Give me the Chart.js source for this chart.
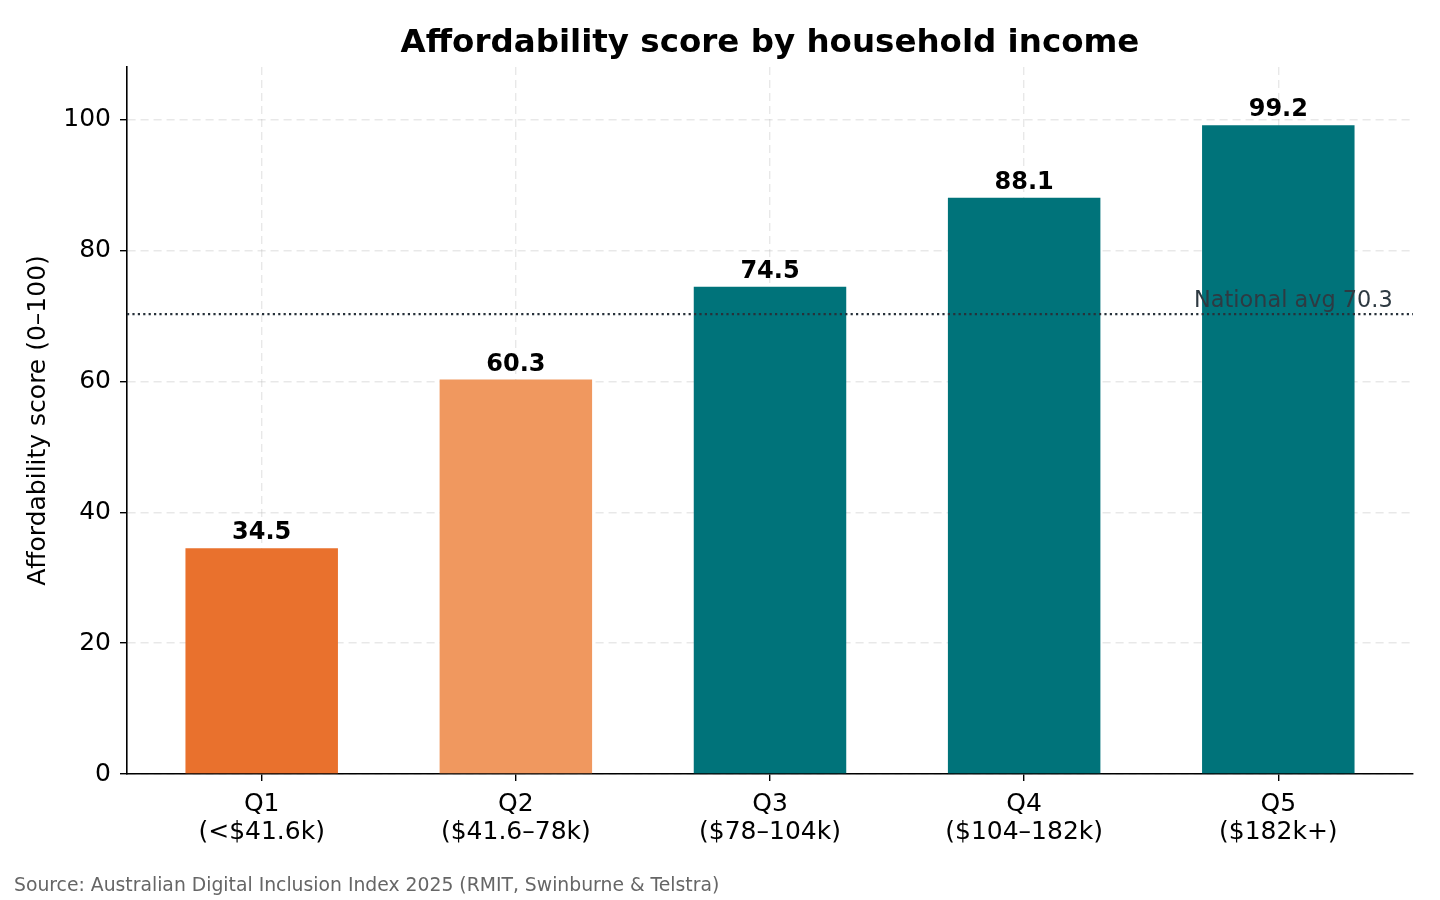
<!DOCTYPE html>
<html lang="en">
<head>
    <meta charset="UTF-8">
    <title>Affordability score by household income</title>
    <script src="https://cdn.jsdelivr.net/npm/chart.js"></script>
    <style>
        html, body { margin: 0; padding: 0; background: #fff; }
        #chart { display: block; }
    </style>
</head>
<body>
    <canvas id="chart" width="1440" height="900"></canvas>
    <script>
        // Data
        const quintiles = ['Q1', 'Q2', 'Q3', 'Q4', 'Q5'];
        const incomeBands = ['(<$41.6k)', '($41.6–78k)', '($78–104k)', '($104–182k)', '($182k+)'];
        const scores = [34.5, 60.3, 74.5, 88.1, 99.2];
        const nationalAvg = 70.3;
        const yTicks = [0, 20, 40, 60, 80, 100];

        const barColors = ['#E9712D', '#F0985F', '#00737A', '#00737A', '#00737A'];
        const FONT = "'DejaVu Sans', sans-serif";

        const overlay = {
            id: 'overlay',
            afterDatasetsDraw(chart) {
                const { ctx, chartArea, scales: { x, y } } = chart;
                ctx.save();
                // national average line
                const ay = y.getPixelForValue(nationalAvg);
                ctx.strokeStyle = '#27313a';
                ctx.lineWidth = 2.3;
                ctx.setLineDash([2.2, 3.2]);
                ctx.beginPath();
                ctx.moveTo(chartArea.left, ay);
                ctx.lineTo(chartArea.right, ay);
                ctx.stroke();
                ctx.setLineDash([]);
                ctx.fillStyle = '#2e3a42';
                ctx.font = '22.4px ' + FONT;
                ctx.textAlign = 'right';
                ctx.textBaseline = 'alphabetic';
                ctx.fillText('National avg ' + nationalAvg.toFixed(1), x.getPixelForValue(4.45), ay - 7);

                // value labels
                ctx.fillStyle = '#000';
                ctx.font = 'bold 24px ' + FONT;
                ctx.textAlign = 'center';
                scores.forEach((v, i) => {
                    ctx.fillText(v.toFixed(1), x.getPixelForValue(i), y.getPixelForValue(v) - 9);
                });
                ctx.restore();
            },
            afterDraw(chart) {
                const { ctx, chartArea } = chart;
                ctx.save();
                ctx.fillStyle = '#000';
                ctx.font = 'bold 32.5px ' + FONT;
                ctx.textAlign = 'center';
                ctx.textBaseline = 'alphabetic';
                ctx.fillText('Affordability score by household income', (chartArea.left + chartArea.right) / 2, 52);

                ctx.fillStyle = '#666';
                ctx.font = '18.8px ' + FONT;
                ctx.textAlign = 'left';
                ctx.fillText('Source: Australian Digital Inclusion Index 2025 (RMIT, Swinburne & Telstra)', 14, 891);

                ctx.translate(38, (chartArea.top + chartArea.bottom) / 2);
                ctx.rotate(-Math.PI / 2);
                ctx.fillStyle = '#000';
                ctx.font = '25px ' + FONT;
                ctx.textAlign = 'center';
                ctx.textBaseline = 'middle';
                ctx.fillText('Affordability score (0–100)', 0, 0);
                ctx.restore();
            }
        };

        const gridStyle = {
            color: 'rgba(180,180,180,0.3)',
            lineWidth: 1.4,
            tickColor: '#000',
            tickLength: 7,
            tickWidth: 1.4,
            offset: false
        };

        new Chart(document.getElementById('chart'), {
            type: 'bar',
            data: {
                datasets: [{
                    data: scores.map((v, i) => ({ x: i, y: v })),
                    backgroundColor: barColors,
                    borderWidth: 0,
                    barPercentage: 0.6,
                    categoryPercentage: 1
                }]
            },
            options: {
                responsive: false,
                animation: false,
                devicePixelRatio: 1,
                layout: { padding: { top: 67, right: 27, bottom: 0, left: 0 } },
                plugins: { legend: { display: false }, tooltip: { enabled: false }, title: { display: false } },
                scales: {
                    x: {
                        type: 'linear',
                        min: -0.53,
                        max: 4.53,
                        offset: false,
                        z: 1,
                        afterBuildTicks: s => { s.ticks = quintiles.map((q, i) => ({ value: i })); },
                        afterFit: s => { s.height = 126; },
                        grid: gridStyle,
                        border: { display: true, color: '#000', width: 1.6, dash: [8, 5] },
                        ticks: {
                            color: '#000',
                            padding: 9,
                            maxRotation: 0,
                            autoSkip: false,
                            font: { family: FONT, size: 25, lineHeight: 1.13 },
                            callback: v => [quintiles[v], incomeBands[v]]
                        }
                    },
                    y: {
                        min: 0,
                        max: 108.1,
                        z: 1,
                        afterBuildTicks: s => { s.ticks = yTicks.map(v => ({ value: v })); },
                        afterFit: s => { s.width = 127; },
                        grid: gridStyle,
                        border: { display: true, color: '#000', width: 1.6, dash: [8, 5] },
                        ticks: {
                            color: '#000',
                            padding: 9,
                            font: { family: FONT, size: 25 }
                        }
                    }
                }
            },
            plugins: [overlay]
        });
    </script>
</body>
</html>
